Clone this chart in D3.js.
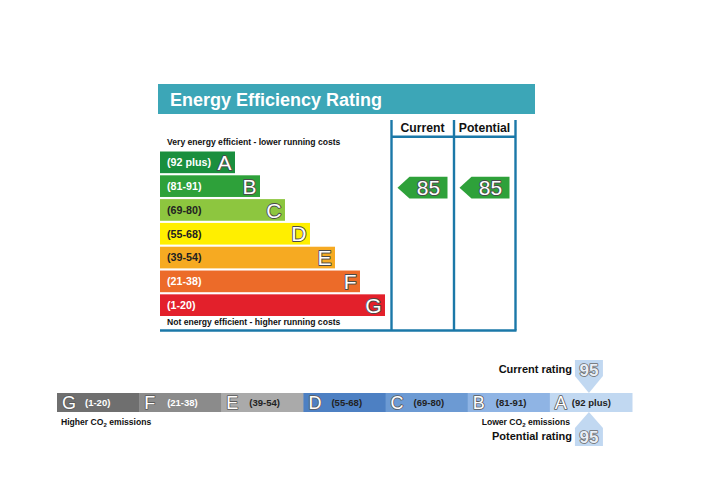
<!DOCTYPE html>
<html><head><meta charset="utf-8">
<script src="https://cdn.jsdelivr.net/npm/d3@7/dist/d3.min.js"></script>
<style>
html,body{margin:0;padding:0;background:#fff;}
svg{display:block;font-family:"Liberation Sans",Arial,sans-serif;}
.ol{paint-order:stroke;stroke-linejoin:round;}
</style></head>
<body>
<svg id="c" width="709" height="484"></svg>
<script>
// ---- data ----
const ratingBands = ["A","B","C","D","E","F","G"];
const ratingRanges = ["(92 plus)","(81-91)","(69-80)","(55-68)","(39-54)","(21-38)","(1-20)"];
const ratingMins = [92,81,69,55,39,21,1];
const columns = ["Current","Potential"];
const ratingValues = [85,85];

const co2Bands = ["G","F","E","D","C","B","A"];
const co2Ranges = ["(1-20)","(21-38)","(39-54)","(55-68)","(69-80)","(81-91)","(92 plus)"];
const co2Values = [95,95]; // current, potential

// ---- styles ----
const ratingColors = ["#1a8f3e","#2ea13a","#8dc63f","#ffef00","#f6aa22","#ec6b29","#e3202b"];
const ratingTextColors = ["#fff","#fff","#222","#222","#222","#fff","#fff"];
const co2Colors = ["#6f6f6f","#8b8b8b","#aaaaaa","#4d80c3","#6c9ad3","#8fb4e4","#c1d8f1"];
const co2TextColors = ["#fff","#fff","#222","#222","#222","#222","#222"];
const lineColor = "#1b78a8";

const svg = d3.select("#c");
const bandOf = v => ratingBands[ratingMins.findIndex(m => v >= m)];

// title bar
svg.append("rect").attr("x",158).attr("y",84).attr("width",377).attr("height",30).attr("fill","#3ca6b7");
svg.append("text").attr("x",170).attr("y",106).attr("fill","#fff").attr("font-weight","bold")
  .attr("font-size",18).text("Energy Efficiency Rating");

// bars
const y = d3.scaleBand().domain(ratingBands).range([151.5, 316]).paddingInner(0.09).paddingOuter(0);
const w = d3.scaleLinear().domain([0,6]).range([75,225]);
const x0 = 160;

svg.append("text").attr("x",167).attr("y",144.5).attr("font-size",8.6).attr("font-weight","bold")
  .attr("fill","#111").text("Very energy efficient - lower running costs");
svg.append("text").attr("x",167).attr("y",324.5).attr("font-size",8.6).attr("font-weight","bold")
  .attr("fill","#111").text("Not energy efficient - higher running costs");

const rows = svg.append("g").selectAll("g").data(ratingBands).join("g")
  .attr("transform", d => `translate(${x0},${y(d)})`);
rows.append("rect").attr("width",(d,i)=>w(i)).attr("height",y.bandwidth())
  .attr("fill",(d,i)=>ratingColors[i]);
rows.append("text").attr("x",7).attr("y",y.bandwidth()/2+3.8).attr("font-size",10.7)
  .attr("font-weight","bold").attr("fill",(d,i)=>ratingTextColors[i]).text((d,i)=>ratingRanges[i]);
rows.append("text").attr("class","ol").attr("x",(d,i)=>w(i)-3.5).attr("y",y.bandwidth()/2+7.6).attr("text-anchor","end")
  .attr("font-size",21).attr("fill","#fff").attr("stroke","#4a4a4a").attr("stroke-width",1.8).text(d=>d);

// columns
const colX = d3.scaleBand().domain(columns).range([391.5,515.5]);
const lines = svg.append("g").attr("stroke",lineColor).attr("stroke-width",2.4).attr("fill","none");
[391.5,454,515.5].forEach(xx => lines.append("line").attr("x1",xx).attr("x2",xx).attr("y1",120).attr("y2",330.5));
lines.append("line").attr("x1",391.5).attr("x2",515.5).attr("y1",136.8).attr("y2",136.8);
lines.append("line").attr("x1",160).attr("x2",516.5).attr("y1",330.5).attr("y2",330.5);

svg.append("g").selectAll("text").data(columns).join("text")
  .attr("x",d=>colX(d)+colX.bandwidth()/2).attr("y",131.5).attr("text-anchor","middle")
  .attr("font-size",12.2).attr("font-weight","bold").attr("fill","#111").text(d=>d);

// arrows
columns.forEach((c,i) => {
  const v = ratingValues[i], b = bandOf(v), bi = ratingBands.indexOf(b);
  const left = colX(c)+6, right = colX(c)+colX.bandwidth()-6;
  const top = y(b)+1.5, h = y.bandwidth(), mid = top+h/2;
  svg.append("path").attr("d",`M${left},${mid}L${left+12},${top}H${right}V${top+h}H${left+12}Z`)
    .attr("fill",ratingColors[bi]);
  svg.append("text").attr("class","ol").attr("x",(left+12+right)/2).attr("y",mid+7.5).attr("text-anchor","middle")
    .attr("font-size",21).attr("fill","#fff").attr("stroke","#4a4a4a").attr("stroke-width",1.8).text(v);
});

// ---- CO2 bar ----
const cx = d3.scaleBand().domain(co2Bands).range([57,632]);
const cyTop = 393, cyH = 19;
const segs = svg.append("g").selectAll("g").data(co2Bands).join("g")
  .attr("transform", d=>`translate(${cx(d)},${cyTop})`);
segs.append("rect").attr("width",cx.bandwidth()+0.5).attr("height",cyH).attr("fill",(d,i)=>co2Colors[i]);
segs.append("text").attr("class","ol").attr("x",5).attr("y",cyH/2+6.5).attr("font-size",18).attr("fill","#fff")
  .attr("stroke","#5a5a5a").attr("stroke-width",1.6).text(d=>d);
segs.append("text").attr("x",(d,i)=> d==="A" ? 22 : 28).attr("y",cyH/2+3.5).attr("font-size",9.5)
  .attr("font-weight","bold").attr("fill",(d,i)=>co2TextColors[i]).text((d,i)=>co2Ranges[i]);

svg.append("text").attr("x",61).attr("y",425).attr("font-size",8.6).attr("font-weight","bold").attr("fill","#111")
  .html('Higher CO<tspan dy="2" font-size="6">2</tspan><tspan dy="-2"> emissions</tspan>');
svg.append("text").attr("x",570).attr("y",425).attr("text-anchor","end").attr("font-size",8.6).attr("font-weight","bold").attr("fill","#111")
  .html('Lower CO<tspan dy="2" font-size="6">2</tspan><tspan dy="-2"> emissions</tspan>');

// markers
const mColor = "#c1d8f1";
const cur = co2Values[0], pot = co2Values[1];
const curX = cx(bandOf(cur)) + cx.bandwidth()/2 - 2, potX = cx(bandOf(pot)) + cx.bandwidth()/2 - 2;
svg.append("path").attr("d",`M${curX-14},360H${curX+14}V376L${curX},${cyTop}L${curX-14},376Z`).attr("fill",mColor);
svg.append("path").attr("d",`M${potX},${cyTop+cyH}L${potX+14},428V446H${potX-14}V428Z`).attr("fill",mColor);
svg.append("text").attr("class","ol").attr("x",curX).attr("y",375.5).attr("text-anchor","middle").attr("font-size",17).attr("font-weight","bold")
  .attr("fill","#e8eef6").attr("stroke","#6a6a6a").attr("stroke-width",1.6).text(cur);
svg.append("text").attr("class","ol").attr("x",potX).attr("y",443).attr("text-anchor","middle").attr("font-size",17).attr("font-weight","bold")
  .attr("fill","#e8eef6").attr("stroke","#6a6a6a").attr("stroke-width",1.6).text(pot);
svg.append("text").attr("x",572).attr("y",373).attr("text-anchor","end").attr("font-size",11).attr("font-weight","bold")
  .attr("fill","#111").text("Current rating");
svg.append("text").attr("x",572).attr("y",440).attr("text-anchor","end").attr("font-size",11).attr("font-weight","bold")
  .attr("fill","#111").text("Potential rating");
</script>
</body></html>
